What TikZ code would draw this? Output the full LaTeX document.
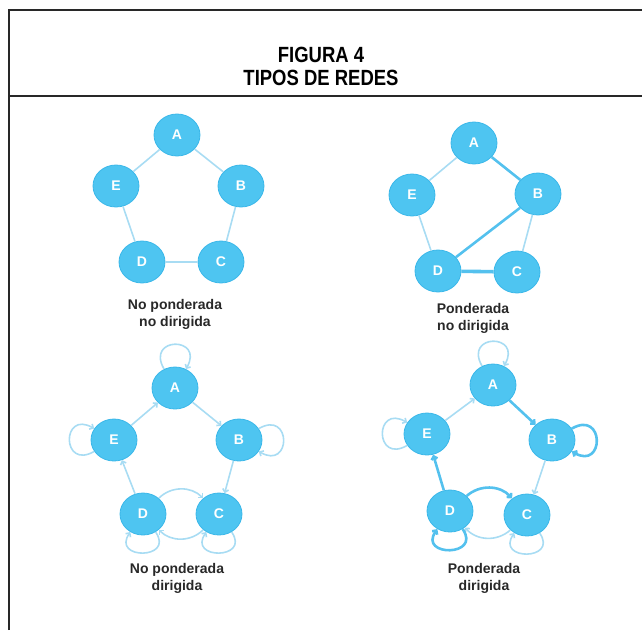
\documentclass[tikz,border=0pt]{standalone}
\usepackage{fontspec}
\setmainfont{Liberation Sans}
\usepackage{graphicx}
\usetikzlibrary{shapes.geometric,arrows.meta}
\definecolor{nodoazul}{RGB}{78,197,241}
\definecolor{bordeazul}{RGB}{58,183,233}
\definecolor{lineaclara}{RGB}{168,220,243}
\definecolor{lineafuerte}{RGB}{84,193,238}
\definecolor{textogris}{RGB}{40,40,40}
\begin{document}
\begin{tikzpicture}[x=1pt,y=1pt,
    nodo/.style={ellipse,fill=nodoazul,draw=bordeazul,line width=0.8pt,minimum width=46pt,minimum height=42pt,inner sep=0pt,text=white,font=\fontsize{14}{14}\selectfont\bfseries},
    fina/.style={draw=lineaclara,line width=1.6pt},
    gruesa/.style={draw=lineafuerte,line width=2.6pt},
    muygruesa/.style={draw=lineafuerte,line width=3.6pt},
    flecha/.style={-{Straight Barb[length=3pt,width=6pt]}},
    rotulo/.style={align=center,text=textogris,font=\fontsize{14}{17}\selectfont\bfseries}]
  \useasboundingbox (0,0) rectangle (642,-630);
  \draw[line width=2.8pt,draw=textogris] (9,-630)--(9,-10)--(642,-10)  (9,-96)--(642,-96);
  \node[text=black,align=center,font=\fontsize{22}{23}\selectfont\bfseries] (titulo) at (321,-66)
    {\scalebox{0.84}[1]{FIGURA 4}\\\scalebox{0.84}[1]{TIPOS DE REDES}};
  % no ponderada, no dirigida
  \node[nodo] (a1) at (177,-135) {A};
  \node[nodo] (b1) at (241,-186) {B};
  \node[nodo] (c1) at (221,-262) {C};
  \node[nodo] (d1) at (142,-262) {D};
  \node[nodo] (e1) at (116,-186) {E};
  \draw[fina] (a1)--(b1)--(c1)--(d1)--(e1)--(a1);
  \node[rotulo] (t1) at (175,-314) {No ponderada\\no dirigida};
  % ponderada, no dirigida
  \node[nodo] (a2) at (474,-143) {A};
  \node[nodo] (b2) at (538,-194) {B};
  \node[nodo] (c2) at (517,-272) {C};
  \node[nodo] (d2) at (438,-271) {D};
  \node[nodo] (e2) at (412,-195) {E};
  \draw[fina] (a2)--(e2)--(d2)  (b2)--(c2);
  \draw[gruesa] (a2)--(b2)--(d2);
  \draw[muygruesa] (d2)--(c2);
  \node[rotulo] (t2) at (473,-318) {Ponderada\\no dirigida};
  % no ponderada, dirigida
  \node[nodo] (a3) at (175,-388) {A};
  \node[nodo] (b3) at (239,-440) {B};
  \node[nodo] (c3) at (219,-514) {C};
  \node[nodo] (d3) at (143,-514) {D};
  \node[nodo] (e3) at (114,-440) {E};
  \draw[fina,flecha] (a3)--(b3);
  \draw[fina,flecha] (b3)--(c3);
  \draw[fina,flecha] (d3)--(e3);
  \draw[fina,flecha] (e3)--(a3);
  \draw[fina,flecha] (d3) to[bend left=45] (c3);
  \draw[fina,flecha] (c3) to[bend left=45] (d3);
  \draw[fina,flecha] (a3) to[out=120,in=60,min distance=38pt] (a3);
  \draw[fina,flecha] (b3) to[out=30,in=-30,min distance=38pt] (b3);
  \draw[fina,flecha] (e3) to[out=210,in=150,min distance=38pt] (e3);
  \draw[fina,flecha] (d3) to[out=-55,in=-125,min distance=34pt] (d3);
  \draw[fina,flecha] (c3) to[out=-55,in=-125,min distance=34pt] (c3);
  \node[rotulo] (t3) at (177,-578) {No ponderada\\dirigida};
  % ponderada, dirigida
  \node[nodo] (a4) at (493,-385) {A};
  \node[nodo] (b4) at (552,-440) {B};
  \node[nodo] (c4) at (527,-515) {C};
  \node[nodo] (d4) at (450,-511) {D};
  \node[nodo] (e4) at (427,-434) {E};
  \draw[gruesa,flecha] (a4)--(b4);
  \draw[fina,flecha] (b4)--(c4);
  \draw[gruesa,flecha] (d4)--(e4);
  \draw[fina,flecha] (e4)--(a4);
  \draw[gruesa,flecha] (d4) to[bend left=45] (c4);
  \draw[fina,flecha] (c4) to[bend left=45] (d4);
  \draw[fina,flecha] (a4) to[out=120,in=60,min distance=38pt] (a4);
  \draw[gruesa,flecha] (b4) to[out=30,in=-30,min distance=38pt] (b4);
  \draw[fina,flecha] (e4) to[out=210,in=150,min distance=38pt] (e4);
  \draw[gruesa,flecha] (d4) to[out=-55,in=-125,min distance=34pt] (d4);
  \draw[fina,flecha] (c4) to[out=-55,in=-125,min distance=34pt] (c4);
  \node[rotulo] (t4) at (484,-578) {Ponderada\\dirigida};
\end{tikzpicture}
\end{document}
